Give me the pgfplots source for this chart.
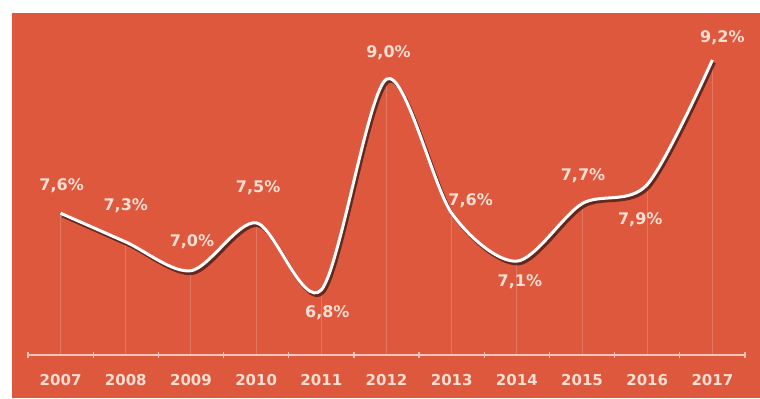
\documentclass[border=0pt]{standalone}
\usepackage{fontspec}
\setmainfont{DejaVu Sans}
\usepackage{pgfplots}
\usepackage{pgfplotstable}
\pgfplotsset{compat=1.18}

\definecolor{bgred}{RGB}{222,88,62}
\definecolor{labpink}{RGB}{250,222,210}
\definecolor{axpink}{RGB}{246,196,182}
\definecolor{shade}{RGB}{60,25,20}

% growth per year, label text, label offset (pt) from the point
\pgfplotstableread{
x y lab dx dy
0 7.6 7,6 0.5 14
1 7.3 7,3 0 18
2 7.0 7,0 0.5 14.5
3 7.5 7,5 1 17.5
4 6.8 6,8 3 -11.5
5 9.0 9,0 1 13
6 7.6 7,6 9.5 6.5
7 7.1 7,1 1.5 -10.5
8 7.7 7,7 0.5 14
9 7.9 7,9 -3.5 -17.5
10 9.2 9,2 5 11
}\growth

\begin{document}
\begin{tikzpicture}
\useasboundingbox (0,0) rectangle (380pt,199pt);
\fill[white] (0,0) rectangle (380pt,199pt);
\fill[bgred] (6pt,0) rectangle (380pt,192.5pt);
\begin{axis}[
    at={(14pt,21.5pt)}, anchor=south west,
    scale only axis, width=358.5pt, height=171pt,
    xmin=-0.5, xmax=10.5,
    ymin=6.12, ymax=9.69,
    hide y axis,
    axis x line*=bottom,
    x axis line style={draw=axpink, line width=0.6pt, -},
    xtick={0,...,10},
    xticklabels={2007,2008,2009,2010,2011,2012,2013,2014,2015,2016,2017},
    major tick length=0pt,
    minor xtick={-0.5,0.5,...,10.5},
    minor tick length=3pt,
    tick align=center,
    minor x tick style={draw=axpink, line width=0.6pt},
    xticklabel style={font=\bfseries\fontsize{7.5}{9}\selectfont, text=labpink, yshift=-6pt},
    /pgf/number format/assume math mode=true,
]
% faint drop lines
\addplot[ycomb, draw=white, opacity=0.18, line width=0.5pt] table[x=x, y=y] {\growth};
% shadow under the line
\addplot[smooth, draw=shade, opacity=0.75, line width=1.6pt, xshift=0.9pt, yshift=-1.3pt] table[x=x, y=y] {\growth};
% the white line with its labels
\addplot[smooth, draw=white, line width=1.5pt,
    point meta=explicit symbolic,
    visualization depends on={\thisrow{dx} \as \dx},
    visualization depends on={\thisrow{dy} \as \dy},
    nodes near coords={\pgfplotspointmeta\%},
    every node near coord/.append style={anchor=center, xshift=\dx pt, yshift=\dy pt,
        font=\bfseries\fontsize{8}{9}\selectfont, text=labpink},
] table[x=x, y=y, meta=lab] {\growth};
\end{axis}
\end{tikzpicture}
\end{document}
